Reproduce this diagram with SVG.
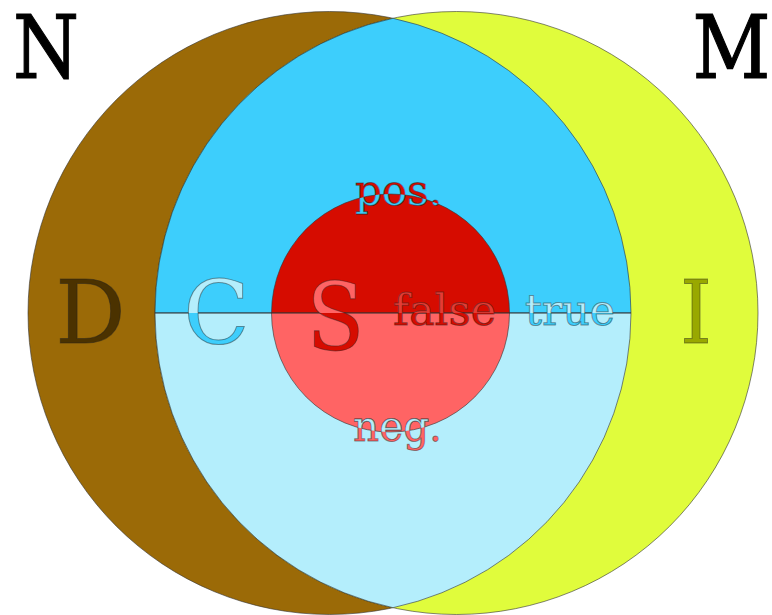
<svg xmlns="http://www.w3.org/2000/svg" width="772" height="615" viewBox="0 0 772 615">
<style>
.edge{stroke:#333;stroke-opacity:0.6;stroke-width:1}
.big{font-family:"DejaVu Serif",serif;font-size:88px;text-anchor:middle}
.small{font-family:"DejaVu Serif",serif;font-size:43px}
.ol{stroke:#222;stroke-opacity:0.45;stroke-width:1}
.blk{fill:#000;stroke:#000;stroke-width:1.2}
</style>
<defs>
<clipPath id="cTop"><rect x="0" y="0" width="772" height="313"/></clipPath>
<clipPath id="cBot"><rect x="0" y="313" width="772" height="302"/></clipPath>
<clipPath id="cIn"><circle cx="390.5" cy="313" r="119"/></clipPath>
</defs>
<rect width="772" height="615" fill="#fff"/>
<g id="circleN">
<circle cx="329.5" cy="313" r="301.5" fill="#9b6a07" class="edge"/>
</g>
<g id="circleM">
<circle cx="456.5" cy="313" r="301.5" fill="#e0fc3c" class="edge"/>
</g>
<g id="lensC">
<path d="M393,18.3 A301.5,301.5 0 0 0 155,313 L631,313 A301.5,301.5 0 0 0 393,18.3 Z" fill="#3dcefc" class="edge"/>
<path d="M155,313 A301.5,301.5 0 0 0 393,607.7 A301.5,301.5 0 0 0 631,313 Z" fill="#b4eefc" class="edge"/>
</g>
<g id="circleS">
<path d="M271.5,313 A119,119 0 0 1 509.5,313 Z" fill="#d60c00" class="edge"/>
<path d="M271.5,313 A119,119 0 0 0 509.5,313 Z" fill="#ff6464" class="edge"/>
</g>
<g id="connectors">
<line x1="155" y1="313" x2="631" y2="313" class="edge"/>
</g>
<g id="labelN"><text class="big blk" x="46" y="78" textLength="66" lengthAdjust="spacingAndGlyphs">N</text></g>
<g id="labelM"><text class="big blk" x="731.5" y="78" textLength="78" lengthAdjust="spacingAndGlyphs">M</text></g>
<g id="labelD"><text class="big ol" x="90.5" y="343" textLength="70" lengthAdjust="spacingAndGlyphs" fill="#4b3200">D</text></g>
<g id="labelI"><text class="big ol" x="696" y="343" textLength="32" lengthAdjust="spacingAndGlyphs" fill="#99a800">I</text></g>
<g id="labelC">
<text class="big ol" x="216.5" y="344" textLength="66" lengthAdjust="spacingAndGlyphs" fill="#b4eefc" clip-path="url(#cTop)">C</text>
<text class="big ol" x="216.5" y="344" textLength="66" lengthAdjust="spacingAndGlyphs" fill="#3dcefc" clip-path="url(#cBot)">C</text>
</g>
<g id="labelS">
<text class="big ol" style="font-size:94px" x="335.5" y="350" textLength="58" lengthAdjust="spacingAndGlyphs" fill="#ff6464" clip-path="url(#cTop)">S</text>
<text class="big ol" style="font-size:94px" x="335.5" y="350" textLength="58" lengthAdjust="spacingAndGlyphs" fill="#d60c00" clip-path="url(#cBot)">S</text>
</g>
<g id="labelFalse">
<text class="small ol" x="393" y="325" textLength="103" lengthAdjust="spacingAndGlyphs" fill="#e63b33" clip-path="url(#cTop)">false</text>
<text class="small ol" x="393" y="325" textLength="103" lengthAdjust="spacingAndGlyphs" fill="#d60c00" clip-path="url(#cBot)">false</text>
</g>
<g id="labelTrue">
<text class="small ol" x="525" y="325" textLength="90" lengthAdjust="spacingAndGlyphs" fill="#b4eefc" clip-path="url(#cTop)">true</text>
<text class="small ol" x="525" y="325" textLength="90" lengthAdjust="spacingAndGlyphs" fill="#3dcefc" clip-path="url(#cBot)">true</text>
</g>
<g id="labelPos">
<text class="small ol" x="355" y="205" textLength="87" lengthAdjust="spacingAndGlyphs" fill="#d60c00">pos.</text>
<text class="small ol" x="355" y="205" textLength="87" lengthAdjust="spacingAndGlyphs" fill="#3dcefc" clip-path="url(#cIn)">pos.</text>
</g>
<g id="labelNeg">
<text class="small ol" x="353" y="441" textLength="89" lengthAdjust="spacingAndGlyphs" fill="#ff6464">neg.</text>
<text class="small ol" x="353" y="441" textLength="89" lengthAdjust="spacingAndGlyphs" fill="#b4eefc" clip-path="url(#cIn)">neg.</text>
</g>
</svg>
